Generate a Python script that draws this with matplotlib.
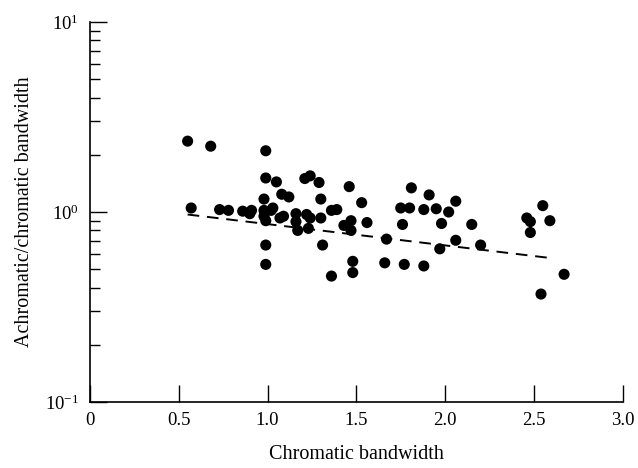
import matplotlib
matplotlib.use("Agg")
import matplotlib.pyplot as plt
from matplotlib.ticker import LogLocator, FixedLocator, LogFormatterSciNotation

# ------------------------------------------------------------
# data
# ------------------------------------------------------------
chromatic_bw = [
    0.55, 0.68, 0.99, 0.99, 1.05, 1.08, 1.12, 0.98, 0.57, 0.73,
    0.78, 0.86, 0.90, 0.91, 0.98, 0.98, 0.99, 1.03, 1.02, 1.07,
    0.99, 0.99, 1.21, 1.24, 1.29, 1.46, 1.81, 1.91, 2.06, 1.30,
    1.53, 1.36, 1.39, 1.75, 1.80, 1.88, 1.95, 2.02, 1.16, 1.16,
    1.22, 1.24, 1.30, 1.47, 1.43, 1.47, 1.56, 1.76, 1.98, 2.15,
    1.17, 1.23, 1.31, 1.67, 2.06, 1.97, 1.48, 1.48, 1.66, 1.77,
    1.88, 1.36, 2.20, 2.55, 2.46, 2.48, 2.59, 2.48, 2.67, 2.54,
    1.09,
]
ratio = [
    2.36, 2.22, 2.10, 1.51, 1.44, 1.24, 1.20, 1.17, 1.05, 1.03,
    1.02, 1.01, 0.98, 1.02, 1.02, 0.95, 0.90, 1.05, 1.02, 0.93,
    0.67, 0.53, 1.50, 1.55, 1.43, 1.36, 1.34, 1.23, 1.14, 1.17,
    1.12, 1.02, 1.03, 1.05, 1.05, 1.03, 1.04, 1.00, 0.98, 0.89,
    0.97, 0.93, 0.93, 0.90, 0.85, 0.80, 0.88, 0.86, 0.87, 0.86,
    0.80, 0.82, 0.67, 0.72, 0.71, 0.64, 0.55, 0.48, 0.54, 0.53,
    0.52, 0.46, 0.67, 1.08, 0.93, 0.89, 0.90, 0.78, 0.47, 0.37,
    0.95,
]

# fitted trend line (end points)
fit_x = [0.55, 2.61]
fit_y = [0.97, 0.57]

x_ticks = [0, 0.5, 1.0, 1.5, 2.0, 2.5, 3.0]
x_tick_labels = ["0", "0.5", "1.0", "1.5", "2.0", "2.5", "3.0"]

# ------------------------------------------------------------
# plot
# ------------------------------------------------------------
plt.rcParams["font.family"] = ["Liberation Serif", "DejaVu Serif"]
plt.rcParams["mathtext.fontset"] = "stix"

fig = plt.figure(figsize=(6.38, 4.68), dpi=100)
ax = fig.add_axes([0.141, 0.141, 0.835, 0.812])

ax.scatter(chromatic_bw, ratio, s=64, color="black", edgecolors="none", zorder=3)
ax.plot(fit_x, fit_y, color="black", lw=1.4, dashes=(6, 4), zorder=2)

ax.set_yscale("log")
ax.set_ylim(0.1, 10)
ax.set_xlim(0, 3.0)

ax.xaxis.set_major_locator(FixedLocator(x_ticks))
ax.set_xticklabels(x_tick_labels)
ax.yaxis.set_major_locator(LogLocator(base=10, numticks=10))
ax.yaxis.set_minor_locator(LogLocator(base=10, subs=range(2, 10), numticks=10))
ax.yaxis.set_major_formatter(LogFormatterSciNotation())

ax.spines["top"].set_visible(False)
ax.spines["right"].set_visible(False)
for side in ("left", "bottom"):
    ax.spines[side].set_linewidth(1.2)

ax.tick_params(axis="x", which="major", direction="in", length=12, width=1.0,
               labelsize=13.5, pad=7)
ax.tick_params(axis="y", which="major", direction="in", length=12, width=1.0,
               labelsize=13.5, pad=8)
ax.tick_params(axis="y", which="minor", direction="in", length=7, width=1.0)

ax.set_xlabel("Chromatic bandwidth", fontsize=14.5, labelpad=12)
ax.set_ylabel("Achromatic/chromatic bandwidth", fontsize=14.5, labelpad=8)

fig.savefig("out.png", dpi=100)
